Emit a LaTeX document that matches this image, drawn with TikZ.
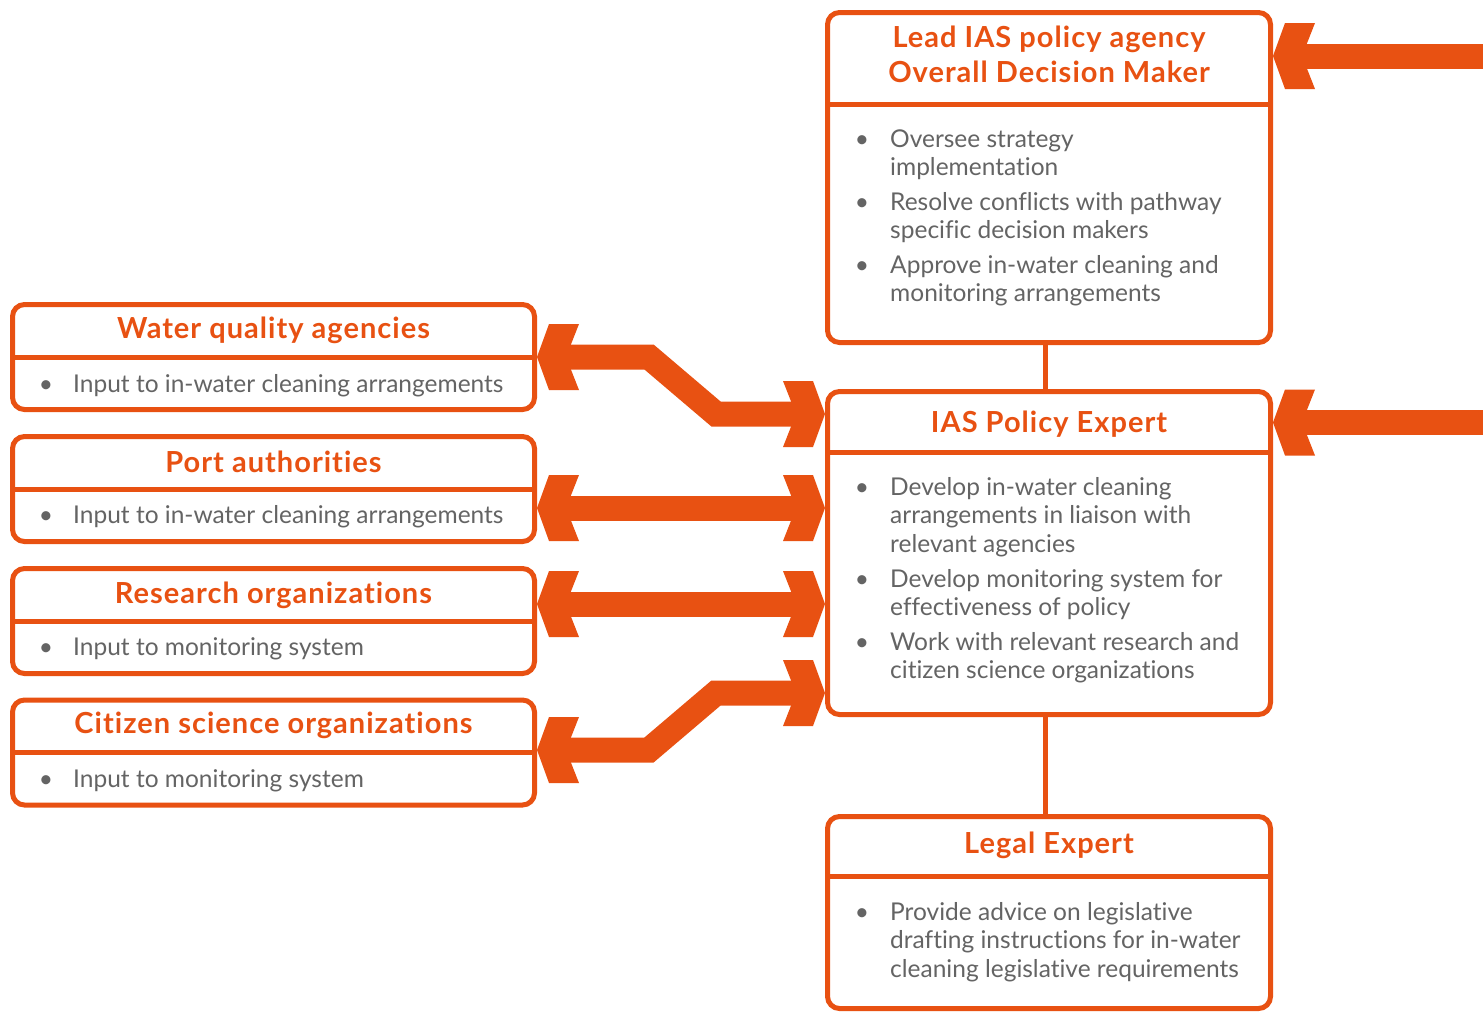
\documentclass[tikz,border=0pt]{standalone}
\usepackage{fontspec}
\setmainfont[Ligatures=NoCommon]{Lato}
\newfontfamily\ttlfont[LetterSpace=3.5,Ligatures=NoCommon]{Lato}
\usetikzlibrary{calc}
\definecolor{acc}{RGB}{232,81,18}
\definecolor{txt}{RGB}{100,100,100}
\newcommand\chev[2]{\fill[acc, shift={(#1)}, rotate=#2] (0,0) -- (12,-33) -- (42,-33) -- (29,0) -- (42,33) -- (12,33) -- cycle;}
\newcommand\bl[3]{\node[body] (#1) at (#2) {#3};}
\newcommand\bu[2]{\node[bul] (#1) at (#2) {\textbullet};}
\begin{document}
\begin{tikzpicture}[x=1pt,y=-1pt,
 box/.style={draw=acc, line width=5pt, rounded corners=12pt, inner sep=0pt, fill=white},
 divider/.style={draw=acc, line width=5pt},
 ttl/.style={text=acc, font=\ttlfont\fontsize{29}{35}\selectfont\bfseries, inner sep=0pt, anchor=base},
 body/.style={text=txt, font=\fontsize{24.5}{28.5}\selectfont, inner sep=0pt, anchor=base west},
 bul/.style={text=txt, font=\fontsize{24.5}{28.5}\selectfont, inner sep=0pt, anchor=base},
 band/.style={draw=acc, line width=25pt, miter limit=10, line join=miter, shorten <=20pt, shorten >=20pt},
 conn/.style={draw=acc, line width=5pt},
 lbox/.style={box, minimum width=522pt, minimum height=105pt},
 rbox/.style={box, minimum width=443pt},
]
\useasboundingbox (0,0) rectangle (1483,1012);

% right boxes
\node[rbox, minimum height=330pt] (lead) at (1049,177.5) {};
\node[rbox, minimum height=323pt] (ias) at (1049,553) {};
\node[rbox, minimum height=192pt] (legal) at (1049,912.5) {};
\coordinate (ldiv) at (0,104);
\coordinate (idiv) at (0,452);
\coordinate (gdiv) at (0,876);
\draw[divider] (lead.west |- ldiv) -- (lead.east |- ldiv);
\draw[divider] (ias.west |- idiv) -- (ias.east |- idiv);
\draw[divider] (legal.west |- gdiv) -- (legal.east |- gdiv);

% left boxes
\node[lbox] (wq) at (273.5,357) {};
\node[lbox] (pa) at (273.5,489) {};
\node[lbox] (ro) at (273.5,621) {};
\node[lbox] (cs) at (273.5,752.5) {};
\foreach \b in {wq,pa,ro,cs} {\draw[divider] (\b.west) -- (\b.east);}

% vertical connectors
\coordinate (cx) at (1045,0);
\draw[conn] (lead.south -| cx) -- (ias.north -| cx);
\draw[conn] (ias.south -| cx) -- (legal.north -| cx);

% titles
\node[ttl] (t1) at (1049,47) {Lead IAS policy agency};
\node[ttl] (t2) at (1049,82) {Overall Decision Maker};
\node[ttl] (t3) at (1049,432) {IAS Policy Expert};
\node[ttl] (t4) at (1049,853) {Legal Expert};
\node[ttl] (t5) at (273.5,338) {Water quality agencies};
\node[ttl] (t6) at (273.5,472) {Port authorities};
\node[ttl] (t7) at (273.5,603) {Research organizations};
\node[ttl] (t8) at (273.5,733) {Citizen science organizations};

% left body
\bu{b1}{46,392} \bl{l1}{73,392}{Input to in-water cleaning arrangements}
\bu{b2}{46,523} \bl{l2}{73,523}{Input to in-water cleaning arrangements}
\bu{b3}{46,655} \bl{l3}{73,655}{Input to monitoring system}
\bu{b4}{46,787} \bl{l4}{73,787}{Input to monitoring system}

% lead body
\bu{b5}{862,147} \bl{r1}{890,147}{Oversee strategy}
\bl{r2}{890,175.5}{implementation}
\bu{b6}{862,210} \bl{r3}{890,210}{Resolve conflicts with pathway}
\bl{r4}{890,238.5}{specific decision makers}
\bu{b7}{862,273} \bl{r5}{890,273}{Approve in-water cleaning and}
\bl{r6}{890,301.5}{monitoring arrangements}

% ias body
\bu{b8}{862,495} \bl{r7}{890,495}{Develop in-water cleaning}
\bl{r8}{890,523.5}{arrangements in liaison with}
\bl{r9}{890,552}{relevant agencies}
\bu{b9}{862,587} \bl{r10}{890,587}{Develop monitoring system for}
\bl{r11}{890,615.5}{effectiveness of policy}
\bu{b10}{862,650} \bl{r12}{890,650}{Work with relevant research and}
\bl{r13}{890,678.5}{citizen science organizations}

% legal body
\bu{b11}{862,920} \bl{r14}{890,920}{Provide advice on legislative}
\bl{r15}{890,948.5}{drafting instructions for in-water}
\bl{r16}{890,977}{cleaning legislative requirements}

% arrows
\coordinate (yA) at (0,56);
\coordinate (yB) at (0,422.5);
\coordinate (yW) at (0,414);
\coordinate (yP) at (0,508);
\coordinate (yR) at (0,604);
\coordinate (yC) at (0,693);
\coordinate (inA) at (1500,56);
\coordinate (inB) at (1500,422.5);

\draw[band, shorten <=0pt] (inA) -- (lead.east |- yA);
\chev{lead.east |- yA}{0}
\draw[band, shorten <=0pt] (inB) -- (ias.east |- yB);
\chev{ias.east |- yB}{0}

\draw[band] (wq.east) -- ++(112,0) -- ++(67,57) -- (ias.west |- yW);
\chev{wq.east}{0} \chev{ias.west |- yW}{180}
\draw[band] (pa.east |- yP) -- (ias.west |- yP);
\chev{pa.east |- yP}{0} \chev{ias.west |- yP}{180}
\draw[band] (ro.east |- yR) -- (ias.west |- yR);
\chev{ro.east |- yR}{0} \chev{ias.west |- yR}{180}
\coordinate (yCL) at (0,750);
\draw[band] (cs.east |- yCL) -- ++(112,0) -- ++(67,-57) -- (ias.west |- yC);
\chev{cs.east |- yCL}{0} \chev{ias.west |- yC}{180}
\end{tikzpicture}
\end{document}
